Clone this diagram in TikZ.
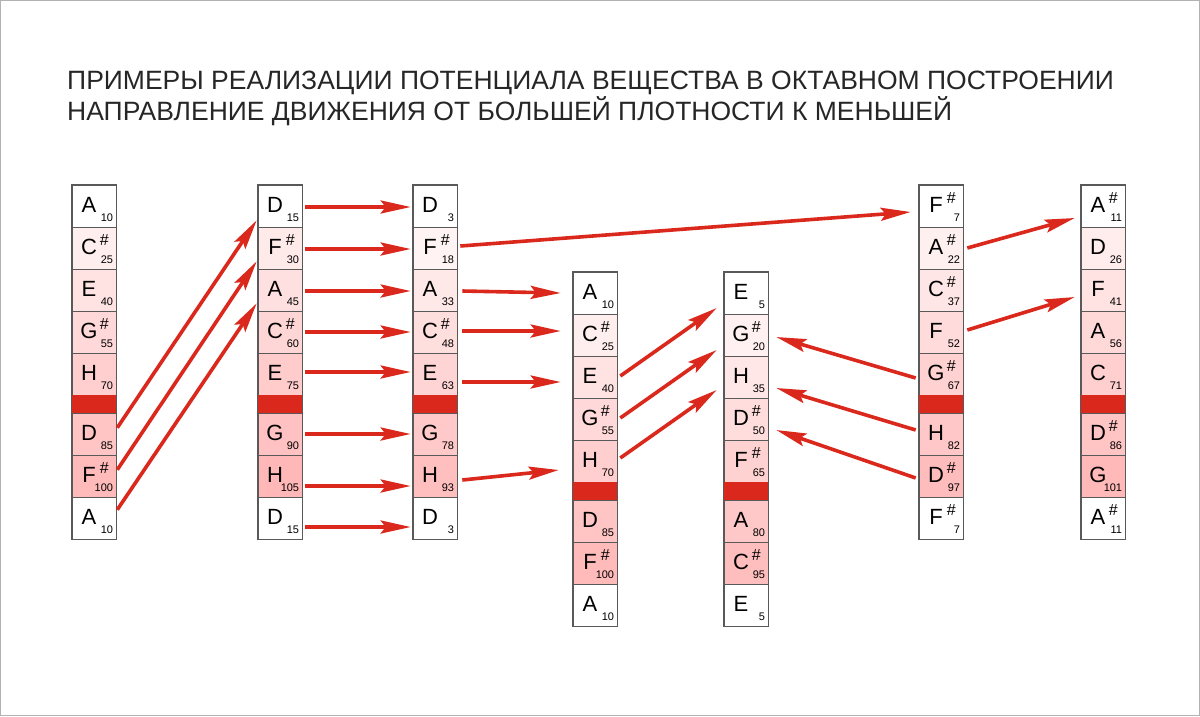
\documentclass[tikz,border=0pt]{standalone}
\usepackage{fontspec}
\setmainfont{Liberation Sans}
\usetikzlibrary{calc,arrows.meta}
\definecolor{rd}{RGB}{218,41,28}
\begin{document}
\begin{tikzpicture}[x=1pt,y=-1pt,
  cell/.style={draw=gray!70!black,line width=0.6pt,minimum width=44pt,minimum height=42pt,inner sep=0pt,anchor=center},
  arr/.style={draw=rd,line width=3.6pt,-{Stealth[length=30pt,width=13pt,inset=5pt]}},
  lt/.style={font=\fontsize{22}{22}\selectfont,inner sep=0pt},
  sb/.style={font=\fontsize{11}{11}\selectfont,inner sep=0pt},
  sh/.style={font=\fontsize{16}{16}\selectfont,inner sep=0pt}]
\useasboundingbox (0,0) rectangle (1200,716);
\draw[gray!60,line width=0.8pt] (0.5,0.5) rectangle (1199.5,715.5);
\node[anchor=west,inner sep=0pt,text=black!85,font=\fontsize{26.5}{31}\selectfont,align=left] (title) at (67,98)
 {ПРИМЕРЫ РЕАЛИЗАЦИИ ПОТЕНЦИАЛА ВЕЩЕСТВА В ОКТАВНОМ ПОСТРОЕНИИ\\НАПРАВЛЕНИЕ ДВИЖЕНИЯ ОТ БОЛЬШЕЙ ПЛОТНОСТИ К МЕНЬШЕЙ};
\foreach \c/\x/\t/\items in {
 1/94/185/{A/0/10,C/1/25,E/0/40,G/1/55,H/0/70,D/0/85,F/1/100,A/0/10},
 2/280/185/{D/0/15,F/1/30,A/0/45,C/1/60,E/0/75,G/0/90,H/0/105,D/0/15},
 3/435/185/{D/0/3,F/1/18,A/0/33,C/1/48,E/0/63,G/0/78,H/0/93,D/0/3},
 4/595/272/{A/0/10,C/1/25,E/0/40,G/1/55,H/0/70,D/0/85,F/1/100,A/0/10},
 5/746/272/{E/0/5,G/1/20,H/0/35,D/1/50,F/1/65,A/0/80,C/1/95,E/0/5},
 6/941/185/{F/1/7,A/1/22,C/1/37,F/0/52,G/1/67,H/0/82,D/1/97,F/1/7},
 7/1103/185/{A/1/11,D/0/26,F/0/41,A/0/56,C/0/71,D/1/86,G/0/101,A/1/11}}{
  \foreach \L/\s/\n [count=\i] in \items {
    \pgfmathsetmacro\yy{\t+42*(\i-1)+(\i>5)*18+21}
    \pgfmathsetmacro\shd{\n<16 ? 0 : \n*0.27}
    \node[cell,fill=red!\shd] (c\c r\i) at (\x,\yy) {};
    \node[lt] (c\c l\i) at ($(c\c r\i.center)+(-5,-1)$) {\L};
    \node[sb,anchor=base east] (c\c n\i) at ($(c\c r\i.south east)+(-3,-6)$) {\n};
    \ifnum\s=1 \node[sh] (c\c s\i) at ($(c\c r\i.north east)+(-12,13)$) {\#};\fi
  }
  \fill[rd] ($(c\c r5.south west)+(0,0)$) rectangle ($(c\c r6.north east)$);
  \draw[gray!70!black,line width=0.6pt] (c\c r1.north west) rectangle (c\c r8.south east);
}
% col1 -> col2
\draw[arr] ($(c1r6.north east)+(1,15)$) -- ($(c2r1.south west)+(-1,-7)$);
\draw[arr] ($(c1r7.north east)+(1,15)$) -- ($(c2r2.south west)+(-1,-8)$);
\draw[arr] ($(c1r8.north east)+(1,13)$) -- ($(c2r3.south west)+(-1,-8)$);
% col2 -> col3
\foreach \i/\d in {1/1,2/1,3/1,4/0,5/-2,6/0,7/10,8/9}
  \draw[arr] ($(c2r\i.east)+(3,\d)$) -- ($(c3r\i.west)+(-2,\d)$);
% col3 -> col4
\draw[arr] ($(c3r3.east)+(5,1)$) -- ($(c4r1.west)+(-12,0)$);
\draw[arr] ($(c3r4.east)+(5,-1)$) -- ($(c4r2.west)+(-12,-4)$);
\draw[arr] ($(c3r5.east)+(5,8)$) -- ($(c4r3.west)+(-12,5)$);
\draw[arr] ($(c3r7.east)+(5,4)$) -- ($(c4r5.west)+(-14,9)$);
\draw[arr] ($(c3r2.east)+(3,-2)$) -- ($(c6r1.west)+(-8,6)$);
% col4 -> col5
\draw[arr] ($(c4r3.east)+(3,-1)$) -- ($(c5r1.west)+(-7,15)$);
\draw[arr] ($(c4r4.east)+(3,-1)$) -- ($(c5r2.west)+(-7,15)$);
\draw[arr] ($(c4r5.east)+(3,-3)$) -- ($(c5r3.west)+(-7,13)$);
% col6 -> col5
\draw[arr] ($(c6r5.west)+(-3,4)$) -- ($(c5r2.east)+(8,2)$);
\draw[arr] ($(c6r6.west)+(-3,-4)$) -- ($(c5r3.east)+(8,11)$);
\draw[arr] ($(c6r7.west)+(-3,2)$) -- ($(c5r4.east)+(8,11)$);
% col6 -> col7
\draw[arr] ($(c6r2.east)+(4,0)$) -- ($(c7r1.west)+(-6,12)$);
\draw[arr] ($(c6r4.east)+(4,-2)$) -- ($(c7r3.west)+(-6,7)$);
\end{tikzpicture}
\end{document}
